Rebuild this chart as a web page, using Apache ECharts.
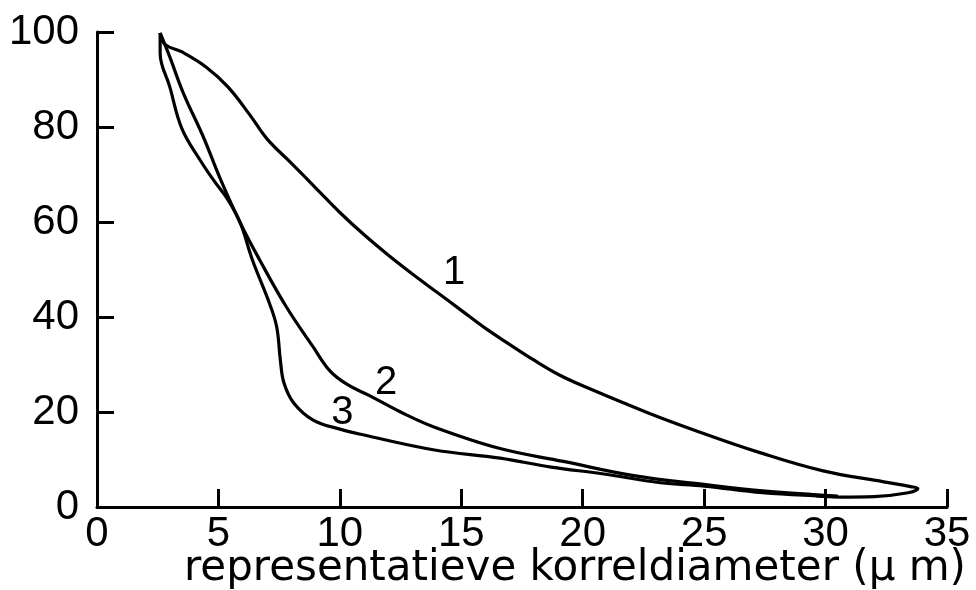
<!DOCTYPE html>
<html>
<head>
<meta charset="utf-8">
<script src="https://cdn.jsdelivr.net/npm/echarts@6/dist/echarts.min.js"></script>
<style>html,body{margin:0;padding:0;background:#fff}#c{width:976px;height:590px}</style>
</head>
<body>
<div id="c"></div>
<script>
// Axis ticks
var xTicks = [0, 5, 10, 15, 20, 25, 30, 35];
var yTicks = [0, 20, 40, 60, 80, 100];

// Curve 1 (x = diameter µm, y = %)
var curve1 = [[2.6,99.8],[2.8,97.4],[3.5,95.8],[4.5,92.6],[5.4,88.4],[6.3,82.5],[7.0,77.5],[8.0,72.4],[9.0,67.2],[10.0,62.0],[11.0,57.3],[12.0,53.0],[13.0,49.0],[14.0,45.2],[15.0,41.4],[16.0,37.6],[17.0,34.2],[18.0,30.9],[19.0,27.9],[20.1,25.3],[22.7,19.8],[24.8,15.8],[27.2,11.6],[29.9,7.6],[32.4,5.3],[33.5,4.3],[33.8,3.9],[33.4,3.0],[32.0,2.2],[30.6,2.1],[29.6,2.4]];
// Curve 2
var curve2 = [[2.6,99.8],[3.0,94.7],[3.55,87.2],[4.37,78.0],[5.1,68.8],[5.9,59.8],[6.7,52.0],[7.8,42.1],[8.9,33.7],[9.6,28.6],[10.3,25.8],[11.2,23.5],[12.5,20.0],[13.9,16.8],[16.6,12.3],[19.2,9.6],[22.1,6.6],[24.9,4.8],[27.4,3.4],[29.8,2.5],[30.5,2.3]];
// Curve 3
var curve3 = [[2.6,99.8],[2.6,95.6],[3.0,88.4],[3.5,79.6],[4.25,73.0],[4.8,68.8],[5.4,64.6],[5.9,59.8],[6.4,52.0],[7.1,42.9],[7.4,37.9],[7.55,30.9],[7.7,26.1],[8.1,21.9],[8.9,18.3],[10.0,16.4],[10.95,15.2],[13.9,12.0],[16.6,10.3],[18.7,8.4],[20.8,7.0],[23.2,5.1],[25.0,4.4],[27.4,3.0],[29.8,2.3],[30.5,2.2]];
// Curve labels
var curveNames = ['1', '2', '3'];
var labelPos = [[14.7, 49.3], [11.9, 26.1], [10.1, 19.8]];
var xTitle = 'representatieve korreldiameter (\u00b5 m)';

var FONT = 'Liberation Sans';
var chart = echarts.init(document.getElementById('c'), null, {renderer: 'canvas'});
function lineSeries(d) {
  return {type: 'line', data: d, smooth: 0.4, showSymbol: false, symbol: 'none',
    lineStyle: {color: '#000', width: 3.2}, silent: true, animation: false};
}
chart.setOption({
  animation: false,
  backgroundColor: '#fff',
  grid: {left: 97, right: 29, top: 32, bottom: 83, containLabel: false},
  xAxis: {
    type: 'value', min: 0, max: 35, interval: 5,
    axisLine: {show: true, lineStyle: {color: '#000', width: 3}},
    axisTick: {show: true, inside: true, length: 18, lineStyle: {color: '#000', width: 3}},
    axisLabel: {color: '#000', fontFamily: FONT, fontSize: 42, margin: 6,
      formatter: function (v) { return xTicks.indexOf(v) >= 0 ? String(v) : ''; }},
    splitLine: {show: false}
  },
  yAxis: {
    type: 'value', min: 0, max: 100, interval: 20,
    axisLine: {show: true, lineStyle: {color: '#000', width: 3}},
    axisTick: {show: true, inside: true, length: 17, lineStyle: {color: '#000', width: 3}},
    axisLabel: {color: '#000', fontFamily: FONT, fontSize: 42, margin: 18,
      formatter: function (v) { return yTicks.indexOf(v) >= 0 ? String(v) : ''; }},
    splitLine: {show: false}
  },
  graphic: [{
    type: 'text', right: 10, bottom: 0,
    style: {text: xTitle, fill: '#000', font: '42px "DejaVu Sans"'}
  }],
  series: [
    lineSeries(curve1), lineSeries(curve2), lineSeries(curve3),
    {type: 'scatter', symbolSize: 0, silent: true, itemStyle: {opacity: 1, color: '#000'},
     data: labelPos.map(function (p, i) { return {name: curveNames[i], value: p}; }),
     label: {show: true, position: 'inside', color: '#000', opacity: 1, fontFamily: FONT, fontSize: 40,
       formatter: function (p) { return p.name; }}}
  ]
});
</script>
</body>
</html>
